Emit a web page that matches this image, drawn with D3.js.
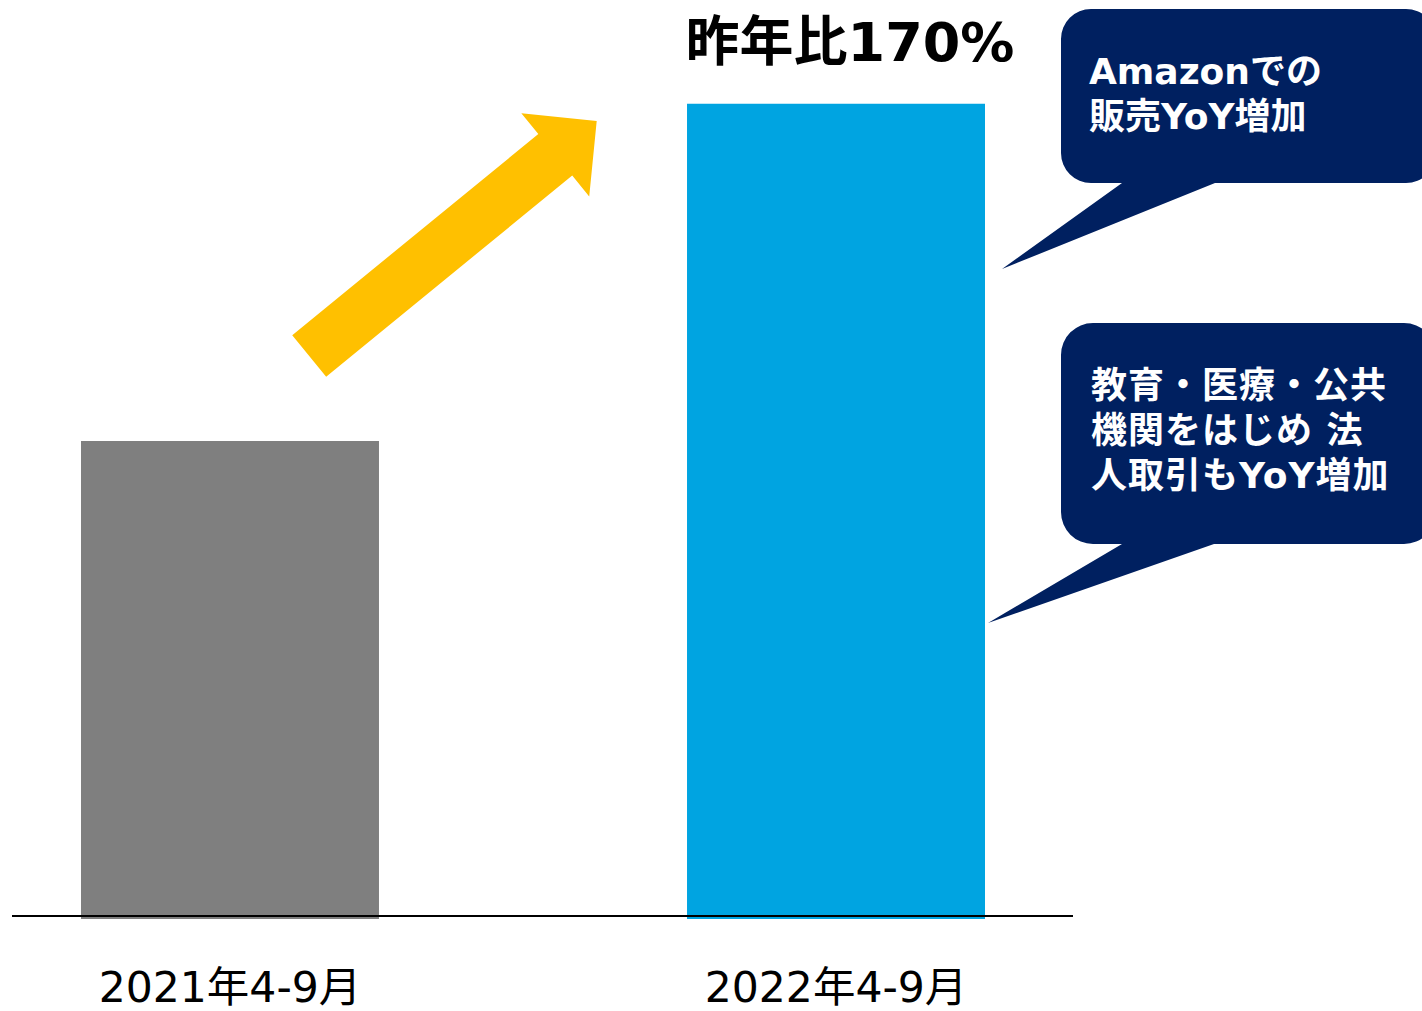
<!DOCTYPE html>
<html>
<head>
<meta charset="utf-8">
<script src="https://cdn.jsdelivr.net/npm/d3@7"></script>
<style>
  html, body { margin: 0; padding: 0; background: #ffffff; overflow: hidden; }
  svg { display: block; }
</style>
</head>
<body>
<svg id="chart" width="1422" height="1011"></svg>
<script>
// ---- data ----
const categories = ["2021年4-9月", "2022年4-9月"];
const values = [100, 171];
const barColors = ["#7f7f7f", "#00a4e1"];
const headline = "昨年比170%";
const callout1Lines = ["Amazonでの", "販売YoY増加"];
const callout2Lines = ["教育・医療・公共", "機関をはじめ 法", "人取引もYoY増加"];

// ---- layout ----
const W = 1422, H = 1011;
const baseY = 916;
const svg = d3.select("#chart");
const FONT = "'DejaVu Sans', 'Noto Sans CJK JP', sans-serif";
const NAVY = "#002060";

const x = d3.scaleBand()
  .domain(categories)
  .range([81, 985])
  .paddingInner(0.5083)
  .paddingOuter(0);

const y = d3.scaleLinear()
  .domain([0, 100])
  .range([baseY, 441]);

// bars
svg.append("g")
  .selectAll("rect")
  .data(values)
  .join("rect")
  .attr("x", (d, i) => x(categories[i]))
  .attr("width", x.bandwidth())
  .attr("y", d => y(d))
  .attr("height", d => y(0) - y(d) + 3)
  .attr("fill", (d, i) => barColors[i]);

// baseline
svg.append("line")
  .attr("x1", 12).attr("x2", 1073)
  .attr("y1", baseY).attr("y2", baseY)
  .attr("stroke", "#000").attr("stroke-width", 2);

// x axis labels
const xAxis = d3.axisBottom(x).tickSize(0).tickPadding(56);
const gx = svg.append("g")
  .attr("transform", `translate(0,${baseY})`)
  .call(xAxis);
gx.select(".domain").remove();
gx.selectAll("text")
  .attr("font-family", FONT)
  .attr("font-size", 42.5)
  .attr("fill", "#000");

// headline
const blueCat = categories[1];
svg.append("text")
  .attr("x", x(blueCat) + x.bandwidth() / 2 + 14)
  .attr("y", 61)
  .attr("text-anchor", "middle")
  .attr("font-family", FONT)
  .attr("font-weight", "bold")
  .attr("font-size", 54)
  .attr("fill", "#000")
  .text(headline);

// yellow arrow
function arrowPath(sx, sy, ex, ey, shaftW, headW, headL) {
  const dx = ex - sx, dy = ey - sy;
  const len = Math.hypot(dx, dy);
  const ux = dx / len, uy = dy / len;
  const px = -uy, py = ux;
  const bx = ex - ux * headL, by = ey - uy * headL;
  const pts = [
    [sx + px * shaftW / 2, sy + py * shaftW / 2],
    [bx + px * shaftW / 2, by + py * shaftW / 2],
    [bx + px * headW / 2, by + py * headW / 2],
    [ex, ey],
    [bx - px * headW / 2, by - py * headW / 2],
    [bx - px * shaftW / 2, by - py * shaftW / 2],
    [sx - px * shaftW / 2, sy - py * shaftW / 2]
  ];
  return "M" + pts.map(p => p.join(",")).join("L") + "Z";
}
svg.append("path")
  .attr("d", arrowPath(309.2, 355.9, 596.7, 121, 53.6, 107.3, 53.5))
  .attr("fill", "#ffc000");

// callouts
function callout(left, top, right, bottom, r, tailL, tailR, tipX, tipY) {
  const p = d3.path();
  p.moveTo(left + r, top);
  p.lineTo(right - r, top);
  p.arcTo(right, top, right, top + r, r);
  p.lineTo(right, bottom - r);
  p.arcTo(right, bottom, right - r, bottom, r);
  p.lineTo(tailR, bottom);
  p.lineTo(tipX, tipY);
  p.lineTo(tailL, bottom);
  p.lineTo(left + r, bottom);
  p.arcTo(left, bottom, left, bottom - r, r);
  p.lineTo(left, top + r);
  p.arcTo(left, top, left + r, top, r);
  p.closePath();
  return p.toString();
}
const barRight = x(blueCat) + x.bandwidth();

svg.append("path")
  .attr("d", callout(1061, 9, 1436, 183, 30, 1122, 1215, barRight + 17, 269))
  .attr("fill", NAVY);
svg.append("path")
  .attr("d", callout(1061, 323, 1436, 544, 32, 1122, 1214, barRight + 3, 623))
  .attr("fill", NAVY);

function lines(arr, x0, y0, lh, size, ls) {
  svg.append("g").selectAll("text")
    .data(arr)
    .join("text")
    .attr("x", x0)
    .attr("y", (d, i) => y0 + i * lh)
    .attr("font-family", FONT)
    .attr("font-weight", "bold")
    .attr("font-size", size)
    .attr("letter-spacing", ls)
    .attr("fill", "#fff")
    .text(d => d);
}
lines(callout1Lines, 1089, 84, 45, 36, 0);
lines(callout2Lines, 1091, 398, 45, 36, 1);
</script>
</body>
</html>
